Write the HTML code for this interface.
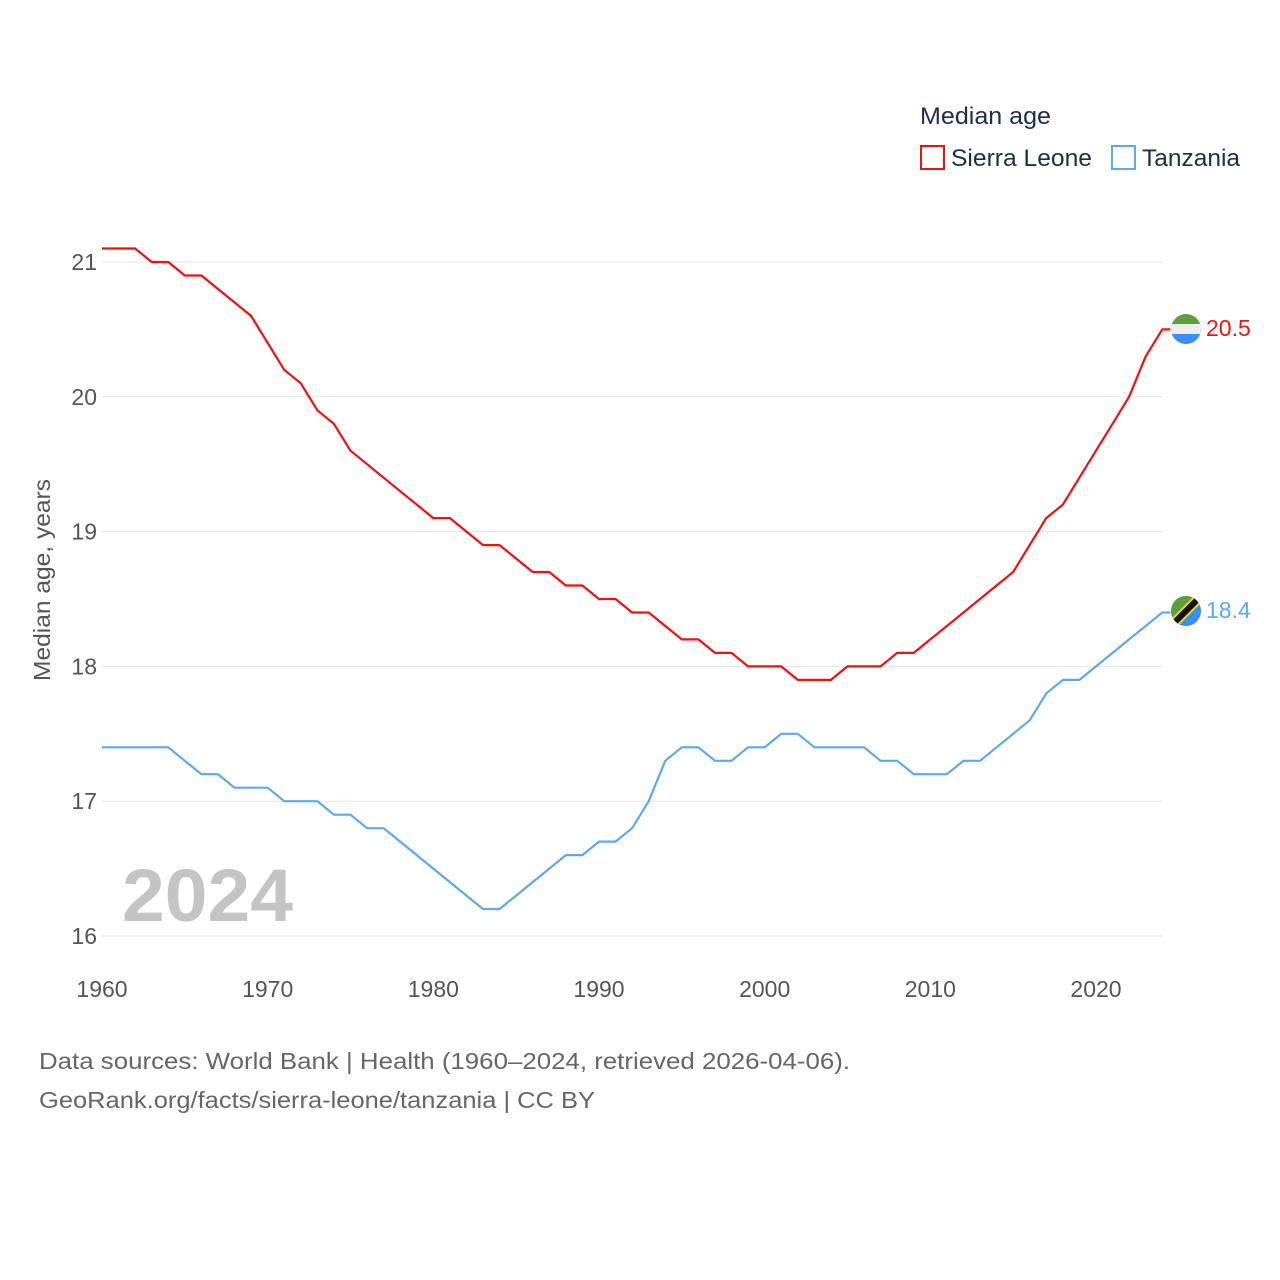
<!DOCTYPE html>
<html><head><meta charset="utf-8">
<style>
html,body{margin:0;padding:0;background:#fff;}
body{width:1280px;height:1280px;position:relative;font-family:"Liberation Sans",sans-serif;}
</style></head>
<body>
<svg id="chart" width="1280" height="1280" xmlns="http://www.w3.org/2000/svg" style="position:absolute;left:0;top:0">
<defs>
<clipPath id="c1"><circle cx="1186" cy="329" r="15"/></clipPath>
<clipPath id="c2"><circle cx="1186" cy="611" r="15"/></clipPath>
</defs>
<g id="grid"></g>
<g id="xticks"></g>
<g id="yticks"></g>
<text transform="translate(50,580) rotate(-90)" text-anchor="middle" font-size="23" fill="#555" textLength="202" lengthAdjust="spacingAndGlyphs">Median age, years</text>
<text x="122" y="921" font-size="74" font-weight="bold" fill="#c4c4c4" textLength="171" lengthAdjust="spacingAndGlyphs">2024</text>
<g id="series"></g>
<g clip-path="url(#c1)">
<rect x="1170" y="313" width="32" height="11" fill="#5e9e3f"/>
<rect x="1170" y="324" width="32" height="10" fill="#eeeeee"/>
<rect x="1170" y="334" width="32" height="11" fill="#3a8ef0"/>
</g>
<g clip-path="url(#c2)">
<rect x="1170" y="595" width="32" height="32" fill="#3a8ef0"/>
<polygon points="1170,595 1202,595 1170,627" fill="#5e9e3f"/>
<line x1="1204" y1="593" x2="1168" y2="629" stroke="#f2d024" stroke-width="10"/>
<line x1="1204" y1="593" x2="1168" y2="629" stroke="#111" stroke-width="6"/>
</g>
<text x="1206" y="336" font-size="23" fill="#ee1111">20.5</text>
<text x="1206" y="618" font-size="23" fill="#5ea8ee">18.4</text>
<text x="920" y="124" font-size="24" fill="#1f2d4a" textLength="131" lengthAdjust="spacingAndGlyphs">Median age</text>
<g>
<rect x="921" y="146" width="23" height="23" fill="none" stroke="#ee1111" stroke-width="2"/>
<text x="951" y="166" font-size="24" fill="#1f2d4a" textLength="141" lengthAdjust="spacingAndGlyphs">Sierra Leone</text>
</g>
<g>
<rect x="1112" y="146" width="23" height="23" fill="none" stroke="#5ea8ee" stroke-width="2"/>
<text x="1142" y="166" font-size="24" fill="#1f2d4a" textLength="98" lengthAdjust="spacingAndGlyphs">Tanzania</text>
</g>
<text x="39" y="1069" font-size="23" fill="#666" textLength="811" lengthAdjust="spacingAndGlyphs">Data sources: World Bank | Health (1960–2024, retrieved 2026-04-06).</text>
<text x="39" y="1108" font-size="23" fill="#666" textLength="556" lengthAdjust="spacingAndGlyphs">GeoRank.org/facts/sierra-leone/tanzania | CC BY</text>
</svg>
<script>
const years = [];
for (let y = 1960; y <= 2024; y++) years.push(y);
const sierraLeone = [21.1,21.1,21.1,21.0,21.0,20.9,20.9,20.8,20.7,20.6,20.4,20.2,20.1,19.9,19.8,19.6,19.5,19.4,19.3,19.2,19.1,19.1,19.0,18.9,18.9,18.8,18.7,18.7,18.6,18.6,18.5,18.5,18.4,18.4,18.3,18.2,18.2,18.1,18.1,18.0,18.0,18.0,17.9,17.9,17.9,18.0,18.0,18.0,18.1,18.1,18.2,18.3,18.4,18.5,18.6,18.7,18.9,19.1,19.2,19.4,19.6,19.8,20.0,20.3,20.5];
const tanzania = [17.4,17.4,17.4,17.4,17.4,17.3,17.2,17.2,17.1,17.1,17.1,17.0,17.0,17.0,16.9,16.9,16.8,16.8,16.7,16.6,16.5,16.4,16.3,16.2,16.2,16.3,16.4,16.5,16.6,16.6,16.7,16.7,16.8,17.0,17.3,17.4,17.4,17.3,17.3,17.4,17.4,17.5,17.5,17.4,17.4,17.4,17.4,17.3,17.3,17.2,17.2,17.2,17.3,17.3,17.4,17.5,17.6,17.8,17.9,17.9,18.0,18.1,18.2,18.3,18.4];
const yTicks = [16,17,18,19,20,21];
const xTicks = [1960,1970,1980,1990,2000,2010,2020];

const NS = "http://www.w3.org/2000/svg";
const xs = y => 102 + (y - 1960) * (1096 - 102) / 60;
const ys = v => 936 - (v - 16) * (936 - 262) / 5;
function mk(tag, attrs, parent) {
  const e = document.createElementNS(NS, tag);
  for (const k in attrs) e.setAttribute(k, attrs[k]);
  parent.appendChild(e);
  return e;
}
const grid = document.getElementById('grid');
const yt = document.getElementById('yticks');
yTicks.forEach(v => {
  const l = mk('line', {x1: 102, x2: 1162, y1: ys(v), y2: ys(v), stroke: '#e6e6e6', 'stroke-width': 1}, grid);
  
  
  const t = mk('text', {x: 97, y: ys(v) + 8, 'text-anchor': 'end', 'font-size': 23, fill: '#555'}, yt);
  t.textContent = v;
  
  
});
const xt = document.getElementById('xticks');
xTicks.forEach(v => {
  const t = mk('text', {x: xs(v), y: 997, 'text-anchor': 'middle', 'font-size': 23, fill: '#555'}, xt);
  t.textContent = v;
  
  
});
const sg = document.getElementById('series');
function line(vals, color, name) {
  let d = vals.map((v, i) => (i ? 'L' : 'M') + xs(years[i]).toFixed(1) + ',' + ys(v).toFixed(1)).join(' ');
  const last = vals[vals.length - 1];
  d += ' L' + (xs(years[years.length - 1]) + 8).toFixed(1) + ',' + ys(last).toFixed(1);
  const p = mk('path', {d: d, fill: 'none', stroke: color, 'stroke-width': 2.2, 'stroke-linejoin': 'round'}, sg);
  
  
}
line(sierraLeone, '#ee1111', 'sierra-leone-line');
line(tanzania, '#5ea8ee', 'tanzania-line');
</script>
</body></html>
